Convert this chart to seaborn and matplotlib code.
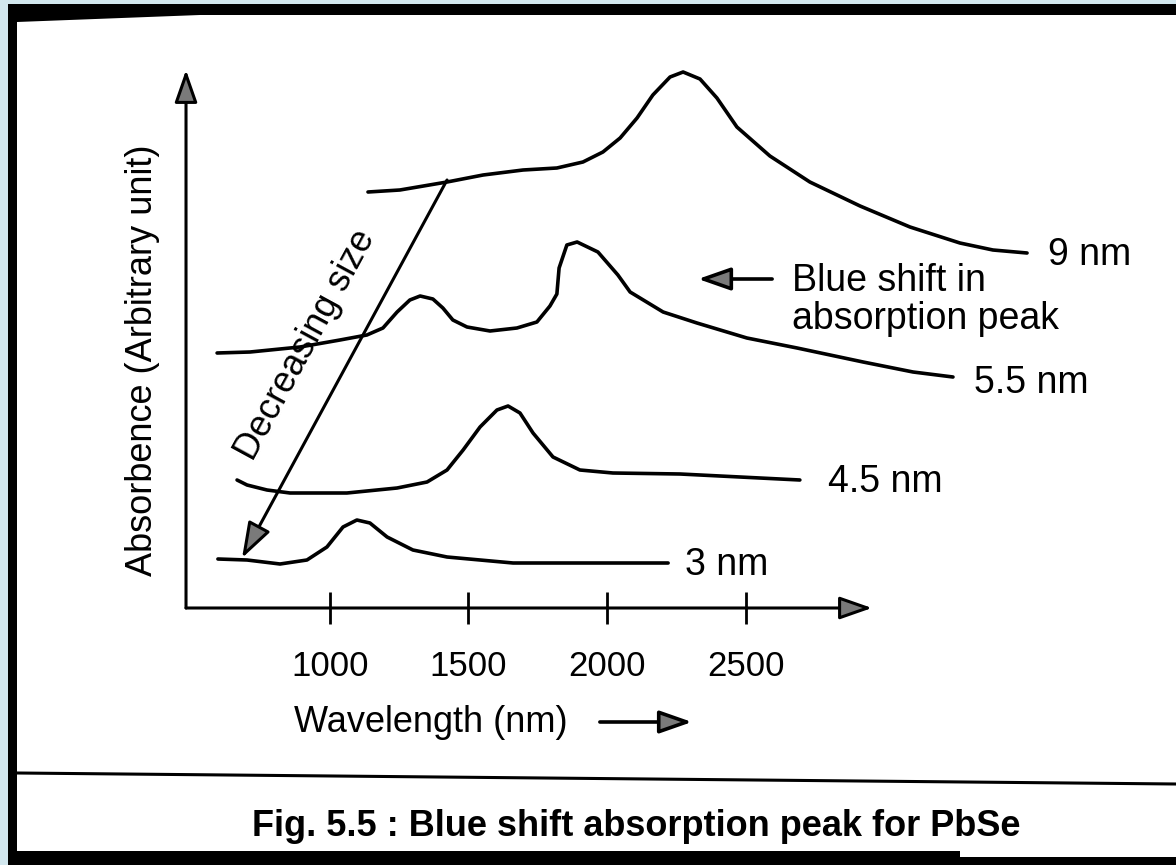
"""PbSe 吸収ピークのブルーシフト図（教科書スキャン風）"""
import matplotlib
matplotlib.use("Agg")
import matplotlib.pyplot as plt
import numpy as np
import pandas as pd
import seaborn as sns
from matplotlib.patches import Rectangle, Polygon
from matplotlib.lines import Line2D

# --- データ（図から読み取り、横軸 nm / 縦軸 任意単位） ---
nm9_x = [1138, 1253, 1423, 1553, 1697, 1819, 1913, 1985, 2047, 2108, 2165, 2227,
         2274, 2335, 2396, 2468, 2587, 2731, 2912, 3092, 3272, 3391, 3514]
nm9_y = [4.16, 4.18, 4.26, 4.33, 4.38, 4.40, 4.46, 4.56, 4.70, 4.90, 5.13, 5.31,
         5.36, 5.29, 5.10, 4.81, 4.52, 4.26, 4.02, 3.81, 3.65, 3.58, 3.55]

nm55_x = [594, 713, 893, 1037, 1134, 1192, 1243, 1289, 1326, 1372, 1408, 1444,
          1495, 1578, 1675, 1747, 1794, 1819, 1827, 1855, 1892, 1967, 2039, 2083,
          2202, 2324, 2504, 2685, 2923, 3103, 3247]
nm55_y = [2.55, 2.56, 2.61, 2.68, 2.73, 2.80, 2.96, 3.08, 3.12, 3.09, 3.00, 2.88,
          2.81, 2.77, 2.80, 2.86, 3.02, 3.14, 3.40, 3.63, 3.66, 3.56, 3.33, 3.16,
          2.96, 2.85, 2.70, 2.60, 2.46, 2.36, 2.31]

nm45_x = [666, 702, 774, 857, 1062, 1243, 1351, 1423, 1481, 1542, 1603, 1643,
          1686, 1733, 1805, 1902, 2021, 2263, 2695]
nm45_y = [1.28, 1.23, 1.18, 1.15, 1.15, 1.20, 1.26, 1.38, 1.58, 1.81, 1.98, 2.02,
          1.95, 1.75, 1.51, 1.38, 1.35, 1.34, 1.28]

nm3_x = [597, 702, 821, 918, 990, 1048, 1098, 1145, 1207, 1300, 1423, 1661, 2220]
nm3_y = [0.49, 0.48, 0.44, 0.48, 0.61, 0.81, 0.88, 0.85, 0.71, 0.58, 0.51, 0.45, 0.45]

size_labels = ["9 nm", "5.5 nm", "4.5 nm", "3 nm"]
x_ticks = [1000, 1500, 2000, 2500]

series = [(nm9_x, nm9_y), (nm55_x, nm55_y), (nm45_x, nm45_y), (nm3_x, nm3_y)]
df = pd.concat(
    [pd.DataFrame({"wavelength": x, "absorbance": y, "size": lab})
     for (x, y), lab in zip(series, size_labels)],
    ignore_index=True,
)

# --- スタイル ---
sns.set_style("white")
plt.rcParams["font.family"] = ["Liberation Sans", "DejaVu Sans"]
plt.rcParams["text.color"] = "black"
plt.rcParams["xtick.color"] = "black"
plt.rcParams["axes.labelcolor"] = "black"

W, H = 1176, 865
fig = plt.figure(figsize=(W / 100, H / 100), dpi=100, facecolor="#d2e7ee")


def fx(px):
    return px / W


def fy(py):
    return 1 - py / H


# スキャン枠（黒縁・白地）
fig.add_artist(Rectangle((fx(8), 0), 1 - fx(8), fy(4), transform=fig.transFigure,
                         facecolor="black", edgecolor="none", zorder=-10))
fig.add_artist(Rectangle((fx(17), fy(851)), 1 - fx(17), fy(15) - fy(851),
                         transform=fig.transFigure, facecolor="white",
                         edgecolor="none", zorder=-9))
fig.add_artist(Rectangle((fx(960), fy(857)), 1 - fx(960), fy(851) - fy(857),
                         transform=fig.transFigure, facecolor="white",
                         edgecolor="none", zorder=-9))
fig.add_artist(Polygon([(fx(17), fy(15)), (fx(17), fy(22)), (fx(200), fy(15))],
                       closed=True, transform=fig.transFigure,
                       facecolor="black", edgecolor="none", zorder=-8))
fig.add_artist(Line2D([fx(17), 1], [fy(773), fy(784)], transform=fig.transFigure,
                      color="black", lw=2.2, zorder=-8))

ax = fig.add_axes([0, 0, 1, 1])
ax.set_facecolor("none")
ax.set_xlim(-188.6, 4051)
ax.set_ylim(-2.57, 6.08)

sns.lineplot(
    data=df, x="wavelength", y="absorbance", hue="size",
    palette={lab: "black" for lab in size_labels},
    sort=False, estimator=None, legend=False, lw=2.6, ax=ax,
)
for line in ax.get_lines():
    line.set_solid_joinstyle("round")
    line.set_solid_capstyle("round")

# サイズラベル（各曲線の右端）
label_offsets = [(15, -1.5), (15, -4), (20, -1.5), (12, -1.5)]
for (x, y), lab, off in zip(series, size_labels, label_offsets):
    ax.annotate(lab, xy=(x[-1], y[-1]), xytext=off, textcoords="offset points",
                ha="left", va="center", fontsize=27)

# 軸（矢印付き）
origin_x, origin_y = 482, 0.0
head = dict(arrowstyle="-|>,head_length=2.0,head_width=0.7", mutation_scale=10,
            lw=2.2, ec="black", fc="#7a7a7a", shrinkA=0, shrinkB=0)
ax.annotate("", xy=(2955, origin_y), xytext=(origin_x, origin_y), arrowprops=head)
ax.annotate("", xy=(origin_x, 5.38), xytext=(origin_x, origin_y), arrowprops=head)

for s in ax.spines.values():
    s.set_visible(False)
ax.spines["bottom"].set_position(("data", origin_y))
ax.set_xticks(x_ticks)
ax.set_xticklabels([str(t) for t in x_ticks])
ax.tick_params(axis="x", direction="inout", length=23, width=2.0, color="black",
               labelcolor="black", pad=19, labelsize=25, bottom=True)
ax.set_yticks([])

ax.set_xlabel("Wavelength (nm)", fontsize=26, va="center", color="black")
ax.xaxis.set_label_coords(fx(431), fy(722))
ax.set_ylabel("Absorbence (Arbitrary unit)", fontsize=26, va="center", color="black")
ax.yaxis.set_label_coords(fx(143), fy(360))

small_head = dict(arrowstyle="-|>,head_length=2.0,head_width=0.7", mutation_scale=10,
                  lw=2.6, ec="black", fc="#7a7a7a", shrinkA=0, shrinkB=0)
# 横軸ラベル横の矢印
ax.annotate("", xy=(2306, -1.14), xytext=(1974, -1.14), arrowprops=small_head)

# 「Decreasing size」矢印
ax.annotate("", xy=(684, 0.50), xytext=(1423, 4.28), arrowprops=dict(
    arrowstyle="-|>,head_length=2.2,head_width=0.75", mutation_scale=10,
    lw=2.2, ec="black", fc="#7a7a7a", shrinkA=0, shrinkB=0))
ax.text(915, 2.63, "Decreasing size", rotation=61.5, rotation_mode="anchor",
        ha="center", va="center", fontsize=26)

# 「Blue shift」注記
ax.annotate("", xy=(2328, 3.29), xytext=(2595, 3.29), arrowprops=small_head)
ax.text(2667, 3.08, "Blue shift in\nabsorption peak", ha="left", va="center",
        fontsize=27, linespacing=1.05)

fig.text(fx(636), fy(826), "Fig. 5.5 : Blue shift absorption peak for PbSe",
         ha="center", va="center", fontsize=26, fontweight="bold")

fig.savefig("out.png", dpi=100, facecolor=fig.get_facecolor())
